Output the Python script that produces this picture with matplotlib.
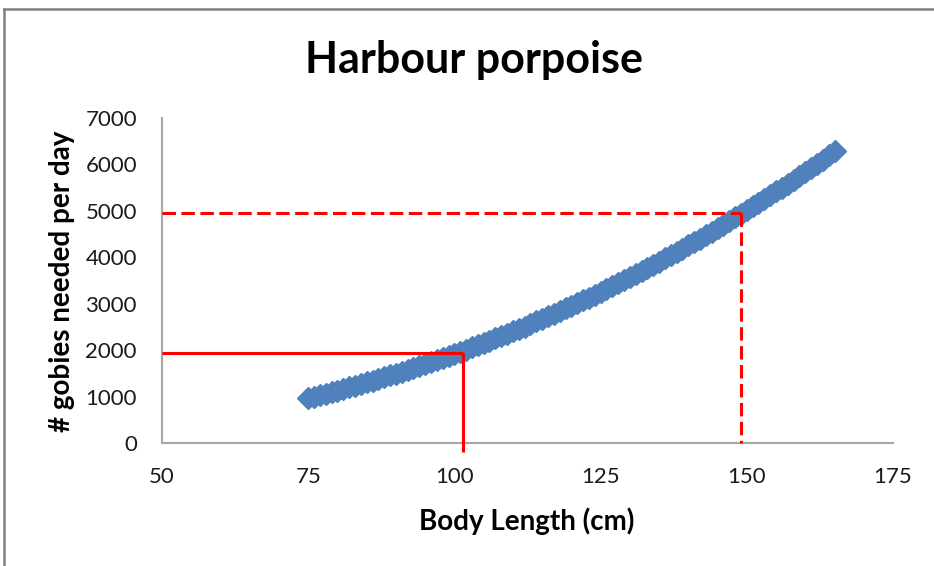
import matplotlib
matplotlib.use("Agg")
import matplotlib.pyplot as plt
from matplotlib.lines import Line2D

plt.rcParams['font.family'] = ['Lato', 'DejaVu Sans']

# Body length (cm) and gobies needed per day
body_length = list(range(75, 166))
gobies_per_day = [
    970, 1001, 1032, 1064, 1097, 1130, 1164, 1198, 1233, 1269,
    1305, 1342, 1379, 1417, 1455, 1494, 1534, 1574, 1615, 1657,
    1699, 1741, 1785, 1828, 1873, 1918, 1964, 2010, 2057, 2105,
    2153, 2202, 2252, 2302, 2353, 2404, 2456, 2509, 2563, 2617,
    2671, 2727, 2783, 2840, 2897, 2955, 3014, 3073, 3133, 3194,
    3255, 3317, 3380, 3443, 3507, 3572, 3638, 3704, 3771, 3838,
    3906, 3975, 4045, 4115, 4186, 4258, 4330, 4404, 4477, 4552,
    4627, 4703, 4780, 4857, 4935, 5014, 5094, 5174, 5255, 5337,
    5420, 5503, 5587, 5671, 5757, 5843, 5930, 6018, 6106, 6195,
    6285,
]

# Reference readings marked on the curve
ref_small = (101.5, 1940)   # solid guide
ref_large = (149, 4950)     # dashed guide

x_ticks = [50, 75, 100, 125, 150, 175]
y_ticks = [0, 1000, 2000, 3000, 4000, 5000, 6000, 7000]

W, H = 934, 566
fig = plt.figure(figsize=(W / 100, H / 100), dpi=100)
ax = fig.add_axes([162 / W, 1 - 443 / H, (893 - 162) / W, (443 - 118) / H])

blue = '#4F81BD'
red = '#FF0000'
axis_grey = '#A6A6A6'

ax.plot(body_length, gobies_per_day, linestyle='none', marker='D',
        markersize=10.8, color=blue, markeredgecolor=blue, zorder=3)

# Solid guide lines
ax.plot([50, ref_small[0]], [ref_small[1], ref_small[1]], color=red, lw=2.2,
        solid_capstyle='butt', zorder=4, clip_on=False)
ax.plot([ref_small[0], ref_small[0]], [ref_small[1], -190], color=red, lw=2.2,
        solid_capstyle='butt', zorder=4, clip_on=False)

# Dashed guide lines
ax.plot([50, ref_large[0]], [ref_large[1], ref_large[1]], color=red, lw=2.2,
        linestyle=(0, (4.4, 1.8)), dash_capstyle='butt', zorder=4, clip_on=False)
ax.plot([ref_large[0], ref_large[0]], [ref_large[1], 0], color=red, lw=2.2,
        linestyle=(0, (4.4, 1.8)), dash_capstyle='butt', zorder=4, clip_on=False)

ax.set_xlim(50, 175)
ax.set_ylim(0, 7000)
ax.set_xticks(x_ticks)
ax.set_yticks(y_ticks)
ax.tick_params(length=0, labelsize=16, colors='#1a1a1a')
ax.tick_params(axis='x', pad=17)
ax.tick_params(axis='y', pad=18)

for side in ('top', 'right'):
    ax.spines[side].set_visible(False)
for side in ('left', 'bottom'):
    ax.spines[side].set_color(axis_grey)
    ax.spines[side].set_linewidth(1.5)

fig.text(474 / W, 1 - 60 / H, 'Harbour porpoise', ha='center', va='center',
         fontsize=31, fontweight='bold', color='black')
fig.text(527 / W, 1 - 521 / H, 'Body Length (cm)', ha='center', va='center',
         fontsize=20, fontweight='bold', color='black')
fig.text(62 / W, 1 - 281 / H, '# gobies needed per day', ha='center', va='center',
         rotation=90, fontsize=20, fontweight='bold', color='black')

# Chart area frame
frame = '#808080'
fig.add_artist(Line2D([3.5 / W, 1], [1 - 8.5 / H, 1 - 8.5 / H],
                      transform=fig.transFigure, color=frame, lw=1.8))
fig.add_artist(Line2D([3.5 / W, 3.5 / W], [0, 1 - 8.5 / H],
                      transform=fig.transFigure, color=frame, lw=1.8))

fig.savefig('out.png', dpi=100)
